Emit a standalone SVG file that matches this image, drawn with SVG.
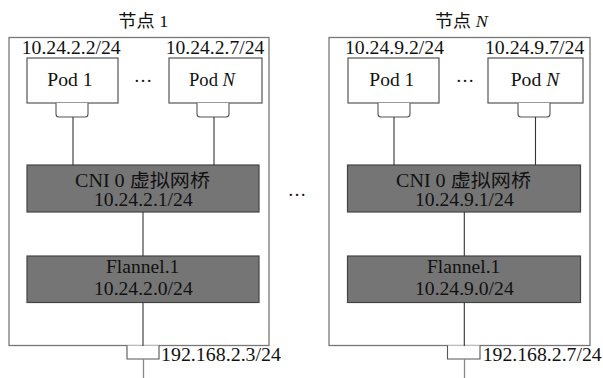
<svg xmlns="http://www.w3.org/2000/svg" width="603" height="378" viewBox="0 0 603 378">
<style>
text{font-family:"Liberation Serif","Noto Sans CJK SC",serif;font-size:18.5px;fill:#111;}
.c{text-anchor:middle;}
.t{font-size:17px;}
.node{fill:#fff;stroke:#777;stroke-width:1.3;}
.pod{fill:#fff;stroke:#555;stroke-width:1.2;}
.port{fill:#fff;stroke:#555;stroke-width:1.1;}
.dark{fill:#757575;stroke:#444;stroke-width:1.2;}
.ln{stroke:#333;stroke-width:1.1;fill:none;}
.lg{stroke:#888;stroke-width:1.3;fill:none;}
</style>
<rect width="603" height="378" fill="#fff"/>

<!-- Node 1 -->
<g id="node1">
<rect class="node" x="9" y="37.5" width="260" height="308"/>
<text class="t" x="118.3" y="26.5" textLength="50" lengthAdjust="spacingAndGlyphs">节点 1</text>
</g>
<g id="node1-pod1">
<text x="21.7" y="54.3" textLength="99" lengthAdjust="spacingAndGlyphs">10.24.2.2/24</text>
<rect class="pod" x="27" y="58" width="91" height="45"/>
<text x="47.3" y="86" textLength="45.4" lengthAdjust="spacingAndGlyphs">Pod 1</text>
<path class="port" d="M56,103 V114 Q56,117 59,117 H85 Q88,117 88,114 V103"/>
</g>
<text class="c" x="143" y="82">…</text>
<g id="node1-podN">
<text x="165.7" y="54.3" textLength="98.6" lengthAdjust="spacingAndGlyphs">10.24.2.7/24</text>
<rect class="pod" x="169" y="58" width="93" height="45"/>
<text x="189" y="86" textLength="46" lengthAdjust="spacingAndGlyphs">Pod <tspan font-style="italic">N</tspan></text>
<path class="port" d="M197,103 V114 Q197,117 200,117 H226 Q229,117 229,114 V103"/>
</g>
<g id="node1-cni0">
<rect class="dark" x="27" y="165" width="232" height="47"/>
<text x="75" y="186.7" textLength="135" lengthAdjust="spacingAndGlyphs">CNI 0 虚拟网桥</text>
<text x="94" y="205.7" textLength="98.7" lengthAdjust="spacingAndGlyphs">10.24.2.1/24</text>
</g>
<g id="node1-flannel">
<rect class="dark" x="27" y="256" width="232" height="46.5"/>
<text x="106" y="273.3" textLength="73.3" lengthAdjust="spacingAndGlyphs">Flannel.1</text>
<text x="94" y="295" textLength="98.7" lengthAdjust="spacingAndGlyphs">10.24.2.0/24</text>
</g>
<g id="node1-eth0">
<path class="port" d="M127,345.5 V359 H159 V345.5"/>
<text x="161" y="360.7" textLength="120" lengthAdjust="spacingAndGlyphs">192.168.2.3/24</text>
</g>

<!-- middle ellipsis -->
<text class="c" x="297" y="196">…</text>

<!-- Node N -->
<g id="nodeN">
<rect class="node" x="329" y="37.5" width="261" height="308"/>
<text class="t" x="435" y="26.5" textLength="52.7" lengthAdjust="spacingAndGlyphs">节点 <tspan font-style="italic">N</tspan></text>
</g>
<g id="nodeN-pod1">
<text x="345" y="54.3" textLength="99" lengthAdjust="spacingAndGlyphs">10.24.9.2/24</text>
<rect class="pod" x="348" y="58" width="91" height="45"/>
<text x="369.3" y="86" textLength="45" lengthAdjust="spacingAndGlyphs">Pod 1</text>
<path class="port" d="M378,103 V114 Q378,117 381,117 H407 Q410,117 410,114 V103"/>
</g>
<text class="c" x="465" y="82">…</text>
<g id="nodeN-podN">
<text x="485" y="54.3" textLength="99.3" lengthAdjust="spacingAndGlyphs">10.24.9.7/24</text>
<rect class="pod" x="488" y="58" width="95" height="45"/>
<text x="510.7" y="86" textLength="48.6" lengthAdjust="spacingAndGlyphs">Pod <tspan font-style="italic">N</tspan></text>
<path class="port" d="M518,103 V114 Q518,117 521,117 H547 Q550,117 550,114 V103"/>
</g>
<g id="nodeN-cni0">
<rect class="dark" x="347.5" y="165" width="233" height="47"/>
<text x="396" y="186.7" textLength="135" lengthAdjust="spacingAndGlyphs">CNI 0 虚拟网桥</text>
<text x="415" y="205.7" textLength="98.7" lengthAdjust="spacingAndGlyphs">10.24.9.1/24</text>
</g>
<g id="nodeN-flannel">
<rect class="dark" x="347.5" y="256" width="233" height="46.5"/>
<text x="427" y="273.3" textLength="73.3" lengthAdjust="spacingAndGlyphs">Flannel.1</text>
<text x="415" y="295" textLength="98.7" lengthAdjust="spacingAndGlyphs">10.24.9.0/24</text>
</g>
<g id="nodeN-eth0">
<path class="port" d="M447.5,345.5 V359 H480 V345.5"/>
<text x="482.7" y="360.7" textLength="119" lengthAdjust="spacingAndGlyphs">192.168.2.7/24</text>
</g>

<!-- connectors -->
<g id="connectors">
<line class="ln" x1="73" y1="117" x2="73" y2="165"/>
<line class="ln" x1="214" y1="117" x2="214" y2="165"/>
<line class="ln" x1="143" y1="212" x2="143" y2="256"/>
<line class="ln" x1="143" y1="302.5" x2="143" y2="346"/>
<line class="lg" x1="143.5" y1="359" x2="143.5" y2="378"/>
<line class="ln" x1="394" y1="117" x2="394" y2="165"/>
<line class="ln" x1="535.5" y1="117" x2="535.5" y2="165"/>
<line class="ln" x1="464.3" y1="212" x2="464.3" y2="256"/>
<line class="ln" x1="464.3" y1="302.5" x2="464.3" y2="346"/>
<line class="lg" x1="464.5" y1="359" x2="464.5" y2="378"/>
</g>
</svg>
